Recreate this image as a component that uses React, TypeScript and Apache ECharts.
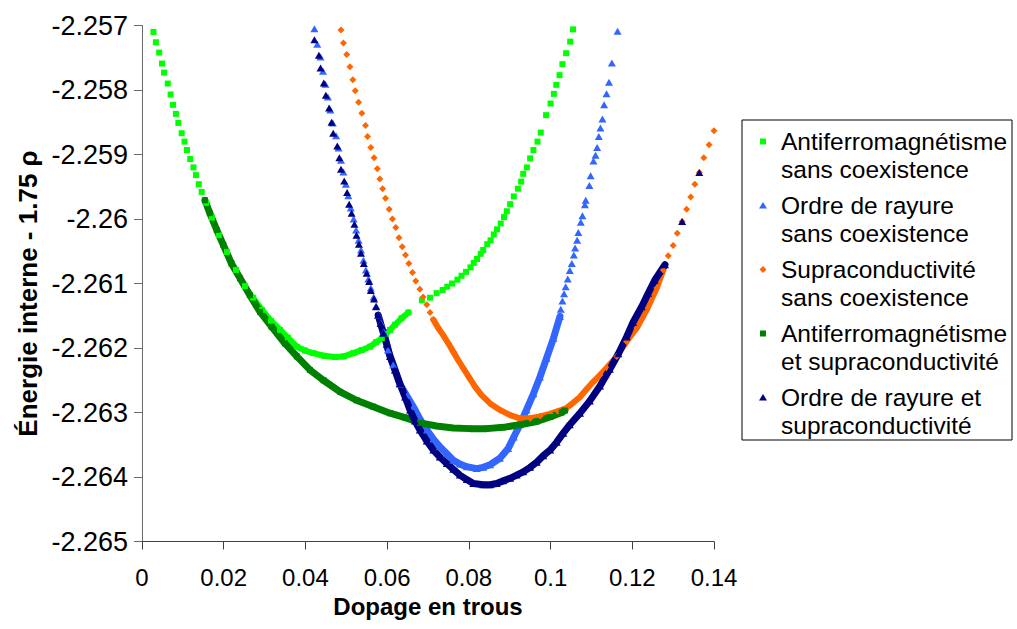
import React, { useEffect, useRef } from "react";
import * as echarts from "echarts";

// ---- Data (x = hole doping, y = internal energy - 1.75 rho) ----
const xTickLabels = ["0", "0.02", "0.04", "0.06", "0.08", "0.1", "0.12", "0.14"];
const yTickLabels = ["-2.265", "-2.264", "-2.263", "-2.262", "-2.261", "-2.26", "-2.259", "-2.258", "-2.257"];

const seriesNames = [
  "Antiferromagnétisme\nsans coexistence",
  "Ordre de rayure\nsans coexistence",
  "Supraconductivité\nsans coexistence",
  "Antiferromagnétisme\net supraconductivité",
  "Ordre de rayure et\nsupraconductivité",
];

// Antiferromagnetism without coexistence
const afPoints = [
  [0.0028, -2.2571], [0.0034, -2.25726], [0.0042, -2.25742], [0.0049, -2.25759], [0.0054, -2.25773],
  [0.0063, -2.2579], [0.007, -2.25807], [0.0076, -2.25823], [0.0083, -2.25837], [0.0089, -2.25851],
  [0.0097, -2.25867], [0.0104, -2.2588], [0.011, -2.25893], [0.0118, -2.25907], [0.0126, -2.2592],
  [0.0132, -2.25932], [0.0139, -2.25946], [0.0146, -2.25958], [0.0157, -2.25975], [0.0171, -2.25998],
  [0.0188, -2.26025], [0.0208, -2.26051], [0.023, -2.26079], [0.0252, -2.26104], [0.0272, -2.26122],
  [0.0294, -2.26141], [0.0316, -2.26158], [0.0338, -2.26172], [0.0357, -2.26184], [0.0379, -2.26198],
  [0.0399, -2.26204], [0.0419, -2.26208], [0.0445, -2.26212], [0.0472, -2.26214], [0.0494, -2.26213],
  [0.0517, -2.26208], [0.0538, -2.26203], [0.0558, -2.26198], [0.0573, -2.26191], [0.0587, -2.26185],
  [0.0597, -2.26178], [0.0607, -2.26172], [0.0619, -2.26164], [0.0635, -2.26154], [0.0652, -2.26145],
  [0.0685, -2.26126], [0.0705, -2.26122], [0.0721, -2.26115], [0.0736, -2.2611], [0.0747, -2.26105],
  [0.0759, -2.261], [0.0772, -2.26094], [0.0782, -2.26088], [0.0793, -2.26082], [0.0804, -2.26075],
  [0.0812, -2.26068], [0.082, -2.26062], [0.0829, -2.26054], [0.0835, -2.26048], [0.0845, -2.26039],
  [0.0853, -2.26033], [0.0861, -2.26024], [0.0869, -2.26016], [0.0878, -2.26007], [0.0886, -2.25997],
  [0.0893, -2.25988], [0.0901, -2.25977], [0.091, -2.25965], [0.092, -2.25953], [0.0928, -2.25942],
  [0.0933, -2.2593], [0.0942, -2.2592], [0.095, -2.25906], [0.0958, -2.25893], [0.0968, -2.2588],
  [0.0976, -2.25866], [0.0989, -2.25839], [0.1, -2.25821], [0.1008, -2.25806], [0.1014, -2.25792],
  [0.1022, -2.25777], [0.1029, -2.2576], [0.1038, -2.25743], [0.1048, -2.25725], [0.1055, -2.25706],
];

// Stripe order without coexistence
const stripePoints = [
  [0.0422, -2.25705], [0.0429, -2.25729], [0.0437, -2.25749], [0.0443, -2.25771], [0.0449, -2.25791],
  [0.0455, -2.25811], [0.0461, -2.25831], [0.0467, -2.25851], [0.0475, -2.25871], [0.0481, -2.2589],
  [0.0487, -2.25909], [0.0493, -2.25927], [0.0499, -2.25946], [0.0505, -2.25964], [0.0511, -2.25983],
  [0.0518, -2.26], [0.0524, -2.26017], [0.053, -2.26033], [0.0536, -2.26048], [0.0542, -2.26064],
  [0.0548, -2.26079], [0.0554, -2.26093], [0.056, -2.26107], [0.0567, -2.26121], [0.0573, -2.26135],
  [0.0579, -2.26149], [0.0585, -2.26161], [0.0592, -2.26175], [0.0602, -2.26203], [0.0615, -2.26226],
  [0.0631, -2.26256], [0.0648, -2.26274], [0.0664, -2.26291], [0.068, -2.2631], [0.0697, -2.26327],
  [0.0713, -2.26341], [0.0729, -2.26353], [0.0746, -2.26364], [0.0762, -2.26374], [0.0778, -2.2638],
  [0.0795, -2.26384], [0.0819, -2.26387], [0.0835, -2.26385], [0.0852, -2.26381], [0.0876, -2.26371],
  [0.0896, -2.26356], [0.091, -2.26338], [0.0925, -2.26319], [0.0941, -2.26296], [0.0958, -2.26271],
  [0.0974, -2.26245], [0.099, -2.26216], [0.1007, -2.26185], [0.1023, -2.26151], [0.1025, -2.2614],
  [0.1029, -2.26127], [0.1033, -2.26116], [0.1037, -2.26105], [0.1042, -2.26093], [0.1047, -2.2608],
  [0.1052, -2.26069], [0.1057, -2.26056], [0.106, -2.26045], [0.1065, -2.26033], [0.1068, -2.26021],
  [0.1074, -2.26005], [0.1078, -2.25995], [0.1084, -2.25978], [0.1086, -2.25971], [0.1095, -2.25948],
  [0.1098, -2.25933], [0.1105, -2.2591], [0.111, -2.25901], [0.1114, -2.25889], [0.1118, -2.25872],
  [0.1122, -2.25859], [0.1127, -2.25845], [0.1131, -2.25823], [0.1137, -2.25806], [0.1143, -2.25788],
  [0.115, -2.25758], [0.1164, -2.25709],
];

// Superconductivity without coexistence
const scPoints = [
  [0.0487, -2.25707], [0.0493, -2.25727], [0.0501, -2.25745], [0.0509, -2.25764], [0.0516, -2.25784],
  [0.0522, -2.25801], [0.053, -2.25819], [0.0538, -2.25836], [0.0547, -2.25855], [0.0552, -2.25872],
  [0.056, -2.25889], [0.0568, -2.25905], [0.0576, -2.25922], [0.0582, -2.25938], [0.0589, -2.25953],
  [0.0596, -2.25968], [0.0605, -2.25985], [0.0613, -2.26], [0.0621, -2.26013], [0.0629, -2.26029],
  [0.0637, -2.26043], [0.0645, -2.26056], [0.0653, -2.26069], [0.0662, -2.26083], [0.067, -2.26096],
  [0.068, -2.26109], [0.0688, -2.26121], [0.0697, -2.26133], [0.0705, -2.26145], [0.0713, -2.26156],
  [0.0725, -2.26169], [0.0737, -2.2618], [0.075, -2.26193], [0.0762, -2.26206], [0.0774, -2.26219],
  [0.0786, -2.26231], [0.0799, -2.26244], [0.0815, -2.2626], [0.0831, -2.26273], [0.0852, -2.26286],
  [0.0876, -2.26296], [0.0901, -2.26304], [0.0925, -2.26309], [0.095, -2.26309], [0.0974, -2.26306],
  [0.0999, -2.26302], [0.1018, -2.26298], [0.1039, -2.26293], [0.1055, -2.26285], [0.1072, -2.26276],
  [0.1088, -2.26264], [0.1105, -2.26252], [0.1121, -2.26242], [0.1137, -2.26231], [0.1162, -2.26213],
  [0.1186, -2.2619], [0.1211, -2.26169], [0.1235, -2.26141], [0.126, -2.26107], [0.1276, -2.26079],
  [0.1288, -2.26057], [0.13, -2.26041], [0.131, -2.26022], [0.1322, -2.26004], [0.1333, -2.25985],
  [0.1343, -2.25966], [0.1353, -2.25946], [0.1364, -2.25928], [0.1375, -2.25905], [0.1388, -2.25885],
  [0.14, -2.25863],
];

// Antiferromagnetism and superconductivity
const afscPoints = [
  [0.0154, -2.25971], [0.0166, -2.25991], [0.0183, -2.26017], [0.0199, -2.2604], [0.0219, -2.26069],
  [0.024, -2.26092], [0.0264, -2.26118], [0.0289, -2.26144], [0.0317, -2.26167], [0.035, -2.26193],
  [0.0379, -2.26213], [0.0411, -2.26234], [0.0444, -2.2625], [0.0485, -2.26268], [0.0525, -2.26281],
  [0.0566, -2.26291], [0.0607, -2.26301], [0.0644, -2.26308], [0.068, -2.26316], [0.0721, -2.26321],
  [0.0762, -2.26324], [0.0803, -2.26325], [0.0844, -2.26325], [0.0884, -2.26323], [0.0925, -2.26319],
  [0.0966, -2.26314], [0.0999, -2.26307], [0.1027, -2.263], [0.1035, -2.26297],
];

// Stripe order and superconductivity
const stripeScPoints = [
  [0.0422, -2.25722], [0.0433, -2.25746], [0.0437, -2.25766], [0.0445, -2.25789], [0.045, -2.25808],
  [0.0458, -2.25828], [0.0464, -2.2585], [0.0468, -2.25867], [0.0478, -2.25887], [0.0483, -2.25905],
  [0.0487, -2.25923], [0.0495, -2.25941], [0.0502, -2.25959], [0.0507, -2.25977], [0.0513, -2.25991],
  [0.052, -2.26008], [0.0525, -2.26025], [0.0531, -2.26039], [0.0536, -2.26053], [0.0543, -2.26069],
  [0.055, -2.26084], [0.0556, -2.26097], [0.056, -2.26111], [0.0568, -2.26124], [0.0573, -2.26136],
  [0.0578, -2.26149], [0.0584, -2.26162], [0.0591, -2.26177], [0.0599, -2.26194], [0.0607, -2.26213],
  [0.0619, -2.26234], [0.0631, -2.26255], [0.0644, -2.26276], [0.0656, -2.26296], [0.0668, -2.26313],
  [0.068, -2.26327], [0.0697, -2.26344], [0.0713, -2.26358], [0.0729, -2.26369], [0.0746, -2.26379],
  [0.0762, -2.26388], [0.0778, -2.26397], [0.0795, -2.26404], [0.0811, -2.2641], [0.0835, -2.26412],
  [0.0852, -2.26412], [0.0868, -2.2641], [0.0884, -2.26406], [0.0901, -2.26402], [0.0917, -2.26397],
  [0.0933, -2.26392], [0.095, -2.26385], [0.0966, -2.26377], [0.0982, -2.26367], [0.0999, -2.26358],
  [0.1015, -2.26346], [0.1031, -2.26332], [0.1047, -2.26319], [0.1072, -2.26301], [0.1096, -2.26282],
  [0.1121, -2.26259], [0.1145, -2.26233], [0.1166, -2.26209], [0.1186, -2.26183], [0.1202, -2.2616],
  [0.1223, -2.26136], [0.1239, -2.26115], [0.1255, -2.26095], [0.128, -2.26071], [0.1322, -2.26004],
  [0.1364, -2.25928],
];

// x-ranges where markers are packed so tightly they form a continuous band
const denseRanges = [
  [0.0272, 0.0652],
  [0.0592, 0.1023],
  [0.0713, 0.1276],
  [0.0, 0.2],
  [0.0578, 0.128],
];

const FONT = "'Liberation Sans', Arial, Helvetica, sans-serif";
const colors = ["#00FF00", "#3366FF", "#FF6600", "#008000", "#000080"];
const symbols = ["rect", "triangle", "diamond", "rect", "triangle"];
const symbolSizes: any[] = [6, [8, 7], 7, 6, [8, 7]];
const bandWidths = [6, 7, 6, 7, 7];
const allPoints = [afPoints, stripePoints, scPoints, afscPoints, stripeScPoints];

function buildOption() {
  const series: any[] = [];
  allPoints.forEach((pts, i) => {
    const [a, b] = denseRanges[i];
    series.push({
      type: "line",
      name: seriesNames[i],
      data: pts.filter((p) => p[0] >= a && p[0] <= b),
      symbol: "none",
      showSymbol: false,
      lineStyle: { color: colors[i], width: bandWidths[i], cap: "round", join: "round" },
      silent: true,
      z: 2,
    });
    series.push({
      type: "scatter",
      name: seriesNames[i],
      data: pts,
      symbol: symbols[i],
      symbolSize: symbolSizes[i],
      itemStyle: { color: colors[i], opacity: 1 },
      silent: true,
      z: 2,
    });
  });

  const legendTop = 120;
  const legendLeft = 742;
  const graphic: any[] = [
    {
      type: "rect",
      shape: { x: legendLeft, y: legendTop, width: 270, height: 320 },
      style: { fill: "#ffffff", stroke: "#000000", lineWidth: 1 },
      z: 10,
    },
  ];
  seriesNames.forEach((name, i) => {
    const cy = 155.5 + 64 * i;
    const sy = cy - 14;
    const sx = 763;
    let sym: any;
    if (symbols[i] === "rect") {
      sym = { type: "rect", shape: { x: sx - 3, y: sy - 3, width: 6, height: 6 }, style: { fill: colors[i] } };
    } else if (symbols[i] === "triangle") {
      sym = { type: "polygon", shape: { points: [[sx, sy - 3.5], [sx + 4, sy + 3], [sx - 4, sy + 3]] }, style: { fill: colors[i] } };
    } else {
      sym = { type: "polygon", shape: { points: [[sx, sy - 3.5], [sx + 3.5, sy], [sx, sy + 3.5], [sx - 3.5, sy]] }, style: { fill: colors[i] } };
    }
    sym.z = 11;
    graphic.push(sym);
    graphic.push({
      type: "text",
      x: 781,
      y: cy,
      z: 11,
      style: {
        text: name,
        fill: "#000000",
        font: `24.5px ${FONT}`,
        lineHeight: 28,
        verticalAlign: "middle",
        align: "left",
      },
    });
  });

  return {
    animation: false,
    backgroundColor: "#ffffff",
    grid: { left: 142, right: 303, top: 25.5, bottom: 87.5, containLabel: false },
    xAxis: {
      type: "value",
      min: 0,
      max: 0.14,
      interval: 0.02,
      name: "Dopage en trous",
      nameLocation: "middle",
      nameGap: 53,
      nameTextStyle: { color: "#000", fontSize: 24, fontWeight: "bold", fontFamily: FONT },
      axisLine: { show: true, onZero: false, lineStyle: { color: "#404040", width: 1 } },
      axisTick: { show: true, inside: false, length: 8, lineStyle: { color: "#404040", width: 1 } },
      splitLine: { show: false },
      axisLabel: {
        color: "#000",
        fontSize: 24,
        fontFamily: FONT,
        margin: 24,
        formatter: (v: number) => xTickLabels[Math.round(v / 0.02)] ?? "",
      },
    },
    yAxis: {
      type: "value",
      min: -2.265,
      max: -2.257,
      interval: 0.001,
      name: "Énergie interne - 1.75 ρ",
      nameLocation: "middle",
      nameGap: 96,
      nameTextStyle: { color: "#000", fontSize: 26, fontWeight: "bold", fontFamily: FONT, padding: [0, 20, 0, 0] },
      axisLine: { show: true, onZero: false, lineStyle: { color: "#6b6b6b", width: 1 } },
      axisTick: { show: true, inside: false, length: 8, lineStyle: { color: "#6b6b6b", width: 1 } },
      splitLine: { show: false },
      axisLabel: {
        color: "#000",
        fontSize: 27,
        fontFamily: FONT,
        margin: 14,
        formatter: (v: number) => yTickLabels[Math.round((v + 2.265) / 0.001)] ?? "",
      },
    },
    series,
    graphic,
  };
}

export default function App() {
  const ref = useRef<HTMLDivElement>(null);
  useEffect(() => {
    if (!ref.current) return;
    const chart = echarts.init(ref.current, null, { renderer: "svg" });
    chart.setOption(buildOption() as any);
    return () => chart.dispose();
  }, []);
  return (
    <div
      ref={ref}
      style={{ position: "absolute", left: 0, top: 0, width: 1017, height: 629, background: "#fff" }}
    />
  );
}
